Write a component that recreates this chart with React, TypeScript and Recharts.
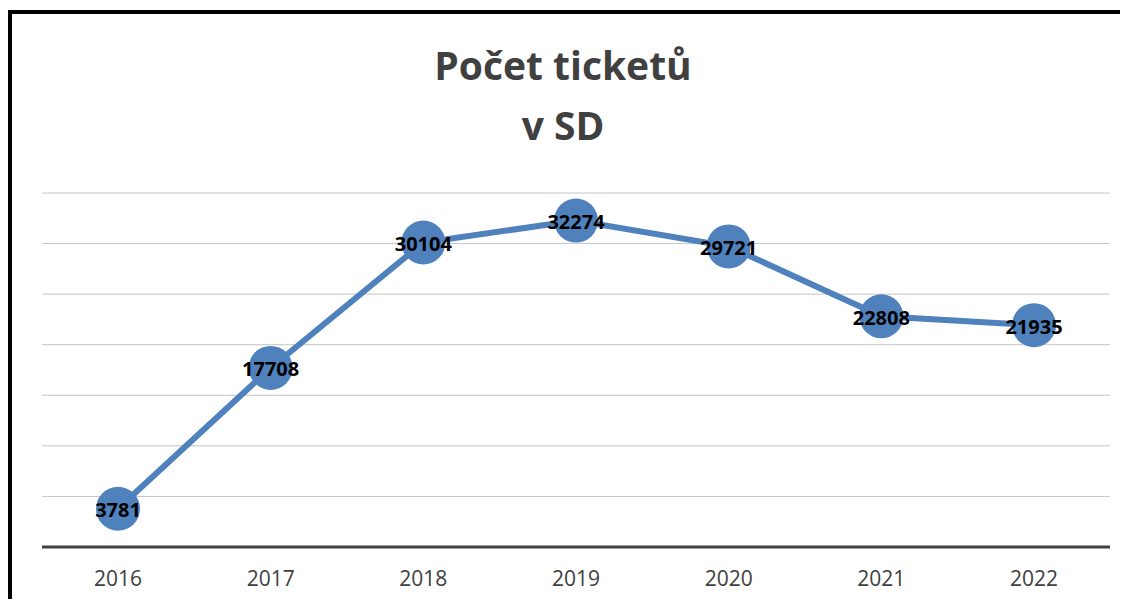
import { LineChart, Line, XAxis, YAxis, CartesianGrid, LabelList } from 'recharts';

const years = ['2016', '2017', '2018', '2019', '2020', '2021', '2022'];
const tickets = [3781, 17708, 30104, 32274, 29721, 22808, 21935];
const yTicks = [0, 5000, 10000, 15000, 20000, 25000, 30000, 35000];

const data = years.map((y, i) => ({ name: y, total: tickets[i] }));

const FONT = '"Open Sans", sans-serif';
const BLUE = '#4f81bd';

const YearTick = (props: any) => {
  const { x, y, payload } = props;
  return (
    <text x={x} y={y + 31} textAnchor="middle" fill="#404040" fontSize={21} fontFamily={FONT}>
      {payload.value}
    </text>
  );
};

const ValueLabel = (props: any) => {
  const { x, y, value } = props;
  return (
    <text
      x={x}
      y={y + 1}
      textAnchor="middle"
      dominantBaseline="central"
      fill="#000"
      fontSize={20}
      fontWeight="bold"
      fontFamily={FONT}
    >
      {value}
    </text>
  );
};

const App = () => {
  return (
    <div style={{ position: 'relative', width: 1128, height: 607, margin: -8, background: '#fff', overflow: 'hidden' }}>
      <div
        style={{
          position: 'absolute',
          left: 8,
          top: 10,
          width: 1128,
          height: 607,
          borderTop: '4px solid #000',
          borderLeft: '4px solid #000',
        }}
      />
      <svg width={1128} height={160} style={{ position: 'absolute', left: 0, top: 0 }}>
        <text x={563} y={80} textAnchor="middle" fill="#404040" fontSize={39} fontWeight="bold" fontFamily={FONT}>
          Počet ticketů
        </text>
        <text x={563} y={140} textAnchor="middle" fill="#404040" fontSize={39} fontWeight="bold" fontFamily={FONT}>
          v SD
        </text>
      </svg>
      <div style={{ position: 'absolute', left: 0, top: 0 }}>
        <LineChart width={1128} height={607} data={data} margin={{ top: 193, right: 18, left: 42, bottom: 0 }}>
          <CartesianGrid vertical={false} stroke="#c4c4c4" strokeWidth={1} />
          <XAxis
            dataKey="name"
            padding={{ left: 76, right: 76 }}
            axisLine={{ stroke: '#404040', strokeWidth: 3 }}
            tickLine={false}
            tick={<YearTick />}
            height={60}
            interval={0}
          />
          <YAxis hide domain={[0, 35000]} ticks={yTicks} width={0} />
          <Line
            dataKey="total"
            stroke={BLUE}
            strokeWidth={6}
            dot={{ r: 22, fill: BLUE, stroke: 'none' }}
            activeDot={false}
            isAnimationActive={false}
          >
            <LabelList dataKey="total" content={<ValueLabel />} />
          </Line>
        </LineChart>
      </div>
    </div>
  );
};

export default App;
